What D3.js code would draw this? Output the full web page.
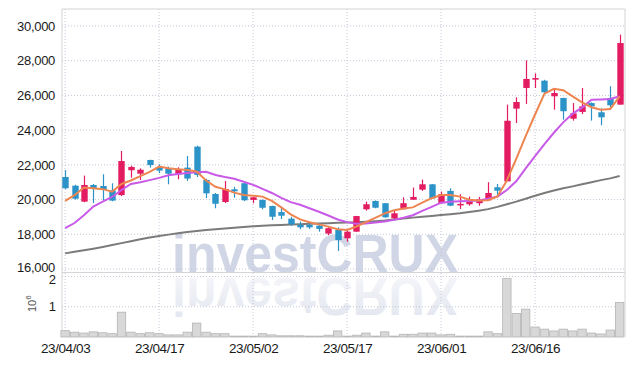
<!DOCTYPE html>
<html><head><meta charset="utf-8">
<script src="https://cdn.jsdelivr.net/npm/d3@7"></script>
<style>
html,body{margin:0;padding:0;background:#fff;}
svg{display:block;}
text{font-family:"Liberation Sans",Arial,sans-serif;}
</style></head>
<body>
<svg id="chart" width="634" height="366"></svg>
<script>
const dates = ["23/04/03","23/04/04","23/04/05","23/04/06","23/04/07","23/04/10","23/04/11","23/04/12","23/04/13","23/04/14",
"23/04/17","23/04/18","23/04/19","23/04/20","23/04/21","23/04/24","23/04/25","23/04/26","23/04/27","23/04/28",
"23/05/02","23/05/03","23/05/04","23/05/08","23/05/09","23/05/10","23/05/11","23/05/12","23/05/15","23/05/16",
"23/05/17","23/05/18","23/05/19","23/05/22","23/05/23","23/05/24","23/05/25","23/05/26","23/05/30","23/05/31",
"23/06/01","23/06/02","23/06/05","23/06/07","23/06/08","23/06/09","23/06/12","23/06/13","23/06/14","23/06/15",
"23/06/16","23/06/19","23/06/20","23/06/21","23/06/22","23/06/23","23/06/26","23/06/27","23/06/28","23/06/29"];
const opens = [21300,20800,19880,20840,20780,20530,20260,21690,21490,22280,
21880,21800,21460,21840,23050,21130,20320,19860,20590,20940,
19980,19980,19630,19280,18900,18540,18540,18500,18040,18250,
17770,18150,19440,19920,19790,18920,19440,19990,20570,20880,
19790,20500,19670,19730,19790,19960,20710,21050,25240,26430,
26910,26850,25950,25850,24660,25050,25560,25030,25850,25470];
const highs = [21700,20850,21380,20900,21460,20940,22800,21950,21800,22300,
22030,21900,21860,22510,23100,21200,20380,21070,20740,20950,
20150,20000,19650,19550,19010,18730,18730,18630,18400,18400,
18200,19060,19880,19950,19800,19340,20130,20690,21150,20900,
20460,20650,20310,20170,20150,21000,20900,25470,25890,28020,
27270,26900,26330,25870,25560,26430,25600,25260,26530,29500];
const lows = [20600,20000,19850,19800,19970,19900,20200,21260,21130,21840,
21530,20880,21170,21070,21300,20090,19500,19800,20110,19920,
19790,19440,18820,18880,18480,18290,18310,18150,17950,17040,
17570,18150,19360,19500,18950,18820,19440,19990,20500,20050,
19790,19620,19460,19650,19640,19960,20280,21050,24410,25510,
26430,26150,25180,24600,24550,24930,24550,24280,25280,25470];
const closes = [20650,20050,20840,20650,20590,19940,22220,21880,21720,21990,
21670,21490,21720,21210,21420,20360,19760,20610,20480,19960,
20130,19530,19010,19070,18580,18400,18400,18310,18350,17670,
18150,19050,19730,19530,18980,19210,19790,20150,20880,20070,
20310,19650,19750,19940,20020,20380,20510,24540,25620,26950,
27000,26180,26140,25090,24970,25370,25370,24740,25430,29020];
const volumes = [0.21,0.16,0.13,0.17,0.14,0.11,0.82,0.16,0.11,0.14,
0.11,0.07,0.07,0.16,0.46,0.16,0.11,0.11,0.03,0.03,
0.03,0.11,0.07,0.04,0.04,0.04,0.03,0.03,0.06,0.20,
0.03,0.06,0.13,0.03,0.17,0.03,0.09,0.09,0.13,0.13,
0.07,0.09,0.03,0.03,0.03,0.17,0.11,1.93,0.78,0.92,
0.33,0.26,0.20,0.26,0.20,0.26,0.13,0.10,0.23,1.14];
const maShort = [19930,20250,20700,20650,20600,20450,20900,21100,21350,21600,
21900,21800,21750,21700,21620,21100,20740,20590,20400,20260,
20220,20170,19920,19550,19150,18860,18690,18570,18440,18290,
18250,18450,18700,18950,19200,19380,19490,19550,19820,20080,
20260,20260,20170,19990,19940,19960,20180,21100,22350,23650,
24900,26100,26380,26300,25950,25600,25320,25180,25220,25950];
const maMid = [18350,18650,19100,19600,19880,20150,20550,20900,21000,21120,
21250,21400,21470,21530,21570,21600,21420,21300,21200,21030,
20850,20620,20380,20100,19850,19700,19500,19300,19080,18850,
18700,18600,18620,18680,18740,18830,18950,19100,19350,19580,
19820,19870,19900,19920,19950,20050,20180,20550,21050,21800,
22500,23200,23850,24450,24950,25300,25750,25770,25800,25950];
const maLong = [16900,16990,17080,17170,17270,17380,17490,17600,17710,17810,
17900,17980,18060,18130,18190,18250,18290,18330,18370,18420,
18460,18490,18520,18540,18560,18580,18600,18620,18640,18660,
18680,18700,18720,18750,18790,18850,18910,18960,19010,19060,
19110,19160,19210,19280,19360,19450,19580,19730,19880,20050,
20220,20380,20520,20650,20760,20880,21000,21120,21220,21360];
const priceTicks = [16000,18000,20000,22000,24000,26000,28000,30000];
const volumeTicks = [1,2];
const dateTickLabels = ["23/04/03","23/04/17","23/05/02","23/05/17","23/06/01","23/06/16"];

const svg = d3.select("#chart");
const L = 62, R = 625, T = 9, PB = 272.5, VB = 337;
const x = d3.scaleLinear().domain([-0.33, 59.57]).range([L, R]);
const y = d3.scaleLinear().domain([16000, 30000]).range([269, 26]);
const yv = d3.scaleLinear().domain([0, 2]).range([VB, 276.5]);
const step = x(1) - x(0);
const UP = "#e31c62", DOWN = "#2b93c8";

// watermark
const defs = svg.append("defs");
const g1 = defs.append("linearGradient").attr("id","refl").attr("x1",0).attr("y1",0).attr("x2",0).attr("y2",1);
g1.append("stop").attr("offset","0%").attr("stop-color","#e1e4ee");
g1.append("stop").attr("offset","100%").attr("stop-color","#f7f8fb");
defs.append("clipPath").attr("id","plotclip").append("rect").attr("x",L).attr("y",T).attr("width",R-L).attr("height",VB-T);
defs.append("clipPath").attr("id","volclip").append("rect").attr("x",L).attr("y",PB+1).attr("width",R-L).attr("height",VB-PB-1);
const wm = svg.append("g").attr("clip-path","url(#plotclip)");
wm.append("text").attr("x",172).attr("y",272).attr("font-size",54).attr("font-weight","bold")
  .attr("font-family","DejaVu Sans")
  .attr("textLength",286).attr("lengthAdjust","spacingAndGlyphs").attr("fill","#d0d6e6").text("investCRUX");
svg.append("g").attr("clip-path","url(#volclip)")
  .append("text").attr("x",172).attr("y",272).attr("font-size",54).attr("font-weight","bold")
  .attr("font-family","DejaVu Sans")
  .attr("transform","translate(0,550) scale(1,-1)")
  .attr("textLength",286).attr("lengthAdjust","spacingAndGlyphs").attr("fill","url(#refl)").text("investCRUX");

// grid
const gridColor = "#c3c6d8";
const grid = svg.append("g");
grid.selectAll(".hg").data(priceTicks).join("line")
  .attr("x1",L).attr("x2",R).attr("y1",d=>y(d)).attr("y2",d=>y(d))
  .attr("stroke",gridColor).attr("stroke-dasharray","1,2");
grid.selectAll(".vg").data(volumeTicks).join("line")
  .attr("x1",L).attr("x2",R).attr("y1",d=>yv(d)).attr("y2",d=>yv(d))
  .attr("stroke",gridColor).attr("stroke-dasharray","1,2");
grid.selectAll(".xg").data(dateTickLabels).join("line")
  .attr("x1",d=>x(dates.indexOf(d))).attr("x2",d=>x(dates.indexOf(d)))
  .attr("y1",T).attr("y2",VB)
  .attr("stroke",gridColor).attr("stroke-dasharray","1,2");

// frame
const frame = svg.append("g").attr("stroke","#d4d4d4").attr("fill","none");
frame.append("line").attr("x1",L).attr("x2",R).attr("y1",T).attr("y2",T);
frame.append("line").attr("x1",L).attr("x2",L).attr("y1",T).attr("y2",VB);
frame.append("line").attr("x1",R).attr("x2",R).attr("y1",T).attr("y2",VB);
frame.append("line").attr("x1",L).attr("x2",R).attr("y1",PB).attr("y2",PB);

// volume bars
const idx = d3.range(dates.length);
svg.append("g").selectAll("rect").data(idx).join("rect")
  .attr("x",i=>x(i)-step/2+0.5).attr("width",step-1)
  .attr("y",i=>yv(volumes[i])).attr("height",i=>VB-yv(volumes[i]))
  .attr("fill","#d8d8d8").attr("stroke","#b4b4b4").attr("stroke-width",0.8);

// MA lines
const lineGen = arr => d3.line().x((d,i)=>x(i)).y(d=>y(d))(arr);
svg.append("path").attr("d",lineGen(maLong)).attr("fill","none").attr("stroke","#7b7b7b").attr("stroke-width",2);

// candles
const cw = step*0.68;
const cg = svg.append("g");
cg.selectAll("line").data(idx).join("line")
  .attr("x1",i=>Math.round(x(i))+0.5).attr("x2",i=>Math.round(x(i))+0.5)
  .attr("y1",i=>y(highs[i])).attr("y2",i=>y(lows[i]))
  .attr("stroke",i=>closes[i]>=opens[i]?UP:DOWN).attr("stroke-width",1.2);
cg.selectAll("rect").data(idx).join("rect")
  .attr("x",i=>Math.round(x(i))+0.5-cw/2).attr("width",cw)
  .attr("y",i=>y(Math.max(opens[i],closes[i])))
  .attr("height",i=>Math.max(1.5,Math.abs(y(opens[i])-y(closes[i]))))
  .attr("fill",i=>closes[i]>=opens[i]?UP:DOWN);

svg.append("path").attr("d",lineGen(maMid)).attr("fill","none").attr("stroke","#c95ae8").attr("stroke-width",2);
svg.append("path").attr("d",lineGen(maShort)).attr("fill","none").attr("stroke","#ee8550").attr("stroke-width",2);

// axes
const yAxis = d3.axisLeft(y).tickValues(priceTicks).tickSize(0).tickPadding(7).tickFormat(d3.format(","));
const ya = svg.append("g").attr("transform",`translate(${L},0)`).call(yAxis);
ya.select(".domain").remove();
ya.selectAll("text").attr("font-size",13).attr("fill","#1a1a1a").attr("letter-spacing","-0.3")
  .attr("dy", d => d === 16000 ? "0.2em" : "0.32em");

const vAxis = d3.axisLeft(yv).tickValues(volumeTicks).tickSize(0).tickPadding(6).tickFormat(d3.format("d"));
const va = svg.append("g").attr("transform",`translate(${L},0)`).call(vAxis);
va.select(".domain").remove();
va.selectAll("text").attr("font-size",13).attr("fill","#1a1a1a")
  .attr("dy", d => d === 2 ? "0.5em" : "0.32em");

const xAxis = d3.axisBottom(x).tickValues(dateTickLabels.map(d=>dates.indexOf(d))).tickSize(0).tickPadding(6)
  .tickFormat(i=>dates[i]);
const xa = svg.append("g").attr("transform",`translate(0,${VB})`).call(xAxis);
xa.select(".domain").remove();
xa.selectAll("text").attr("font-size",13.5).attr("fill","#1a1a1a").attr("letter-spacing","-0.4");

// unit label
const ul = svg.append("text").attr("transform","translate(36,312) rotate(-90)").attr("fill","#555").attr("font-size",11);
ul.append("tspan").text("10");
ul.append("tspan").attr("dy",-5).attr("font-size",8).text("6");
</script>
</body></html>
